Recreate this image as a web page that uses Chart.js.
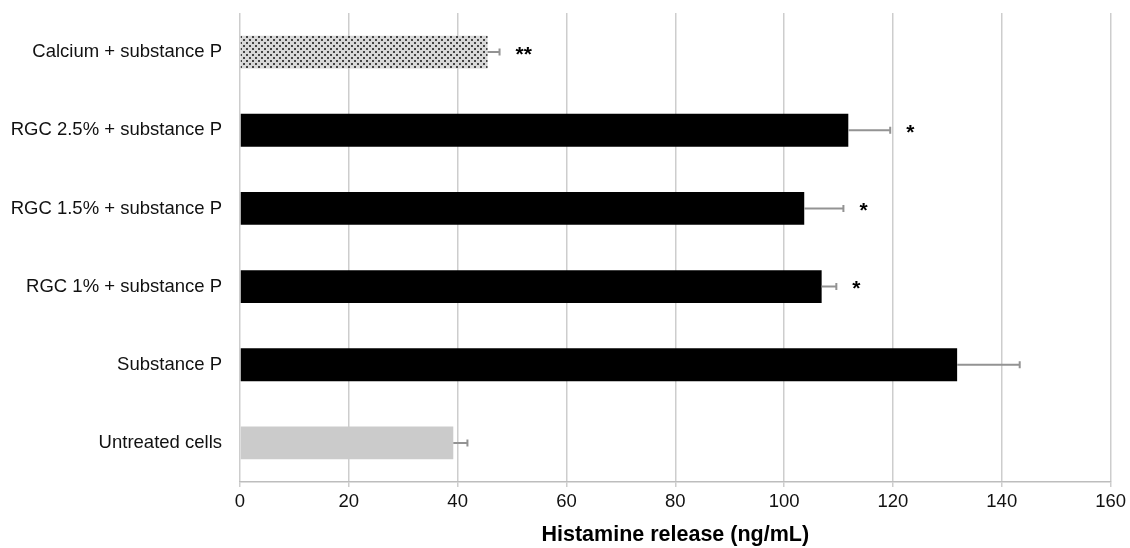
<!DOCTYPE html>
<html>
<head>
<meta charset="utf-8">
<script src="https://cdn.jsdelivr.net/npm/chart.js@4"></script>
<style>
  body { margin: 0; background: #fff; }
  #wrap { width: 1130px; height: 548px; }
</style>
</head>
<body>
<div id="wrap"><canvas id="barChart"></canvas></div>
<script>
// Data (top to bottom)
const categories = [
  'Calcium + substance P',
  'RGC 2.5% + substance P',
  'RGC 1.5% + substance P',
  'RGC 1% + substance P',
  'Substance P',
  'Untreated cells'
];
const histamine = [45.5, 111.8, 103.7, 106.9, 131.8, 39.2];
const errors = [2.2, 7.7, 7.2, 2.7, 11.5, 2.6];
const significance = ['**', '*', '*', '*', '', ''];
const xTicks = [0, 20, 40, 60, 80, 100, 120, 140, 160];

const FONT = "'Liberation Sans', Arial, Helvetica, sans-serif";

// Stippled fill used for the calcium bar
function makeStipple() {
  const c = document.createElement('canvas');
  c.width = 6;
  c.height = 6;
  const g = c.getContext('2d');
  g.fillStyle = '#d8d8d8';
  g.fillRect(0, 0, 6, 6);
  g.fillStyle = '#444';
  g.fillRect(0, 0, 2, 2);
  g.fillRect(3, 3, 2, 2);
  return g.createPattern(c, 'repeat');
}

const ctx = document.getElementById('barChart').getContext('2d');
const barColors = [makeStipple(), '#000', '#000', '#000', '#000', '#cbcbcb'];

// Draw one-sided error bars and the asterisks
const errorBars = {
  id: 'errorBars',
  afterDatasetsDraw(chart) {
    const x = chart.scales.x;
    const meta = chart.getDatasetMeta(0);
    const c = chart.ctx;
    c.save();
    meta.data.forEach((bar, i) => {
      const x0 = x.getPixelForValue(histamine[i]);
      const x1 = x.getPixelForValue(histamine[i] + errors[i]);
      const y = bar.y;
      c.strokeStyle = '#939393';
      c.lineWidth = 2;
      c.beginPath();
      c.moveTo(x0, y);
      c.lineTo(x1, y);
      c.moveTo(x1, y - 3.5);
      c.lineTo(x1, y + 3.5);
      c.stroke();
      if (significance[i]) {
        c.fillStyle = '#000';
        c.font = 'bold 21px ' + FONT;
        c.textAlign = 'left';
        c.textBaseline = 'middle';
        c.fillText(significance[i], x1 + 16, y + 3);
      }
    });
    c.restore();
  }
};

new Chart(ctx, {
  type: 'bar',
  data: {
    labels: categories,
    datasets: [{
      label: 'Histamine release',
      data: histamine,
      backgroundColor: barColors,
      borderWidth: 0,
      categoryPercentage: 1,
      barPercentage: 0.42
    }]
  },
  options: {
    indexAxis: 'y',
    responsive: true,
    maintainAspectRatio: false,
    animation: false,
    layout: { padding: { top: 13, right: 15, bottom: 0, left: 0 } },
    plugins: {
      legend: { display: false },
      tooltip: { enabled: false }
    },
    scales: {
      x: {
        min: 0,
        max: 160,
        afterBuildTicks: scale => { scale.ticks = xTicks.map(v => ({ value: v })); },
        afterFit: scale => { scale.height = 66; },
        grid: { color: '#cdcdcd', lineWidth: 1.5, tickLength: 5 },
        border: { color: '#bdbdbd', width: 1.5 },
        ticks: { color: '#111', padding: 4, font: { family: FONT, size: 18.5 } },
        title: {
          display: true,
          text: 'Histamine release (ng/mL)',
          color: '#000',
          padding: { top: 0, bottom: 0 },
          font: { family: FONT, size: 21.5, weight: 'bold' }
        }
      },
      y: {
        afterFit: scale => {
          scale.width = 240;
          scale.paddingTop = 0;
          scale.paddingBottom = 0;
        },
        grid: { display: false, drawTicks: false },
        border: { display: false },
        ticks: { color: '#111', padding: 18, font: { family: FONT, size: 18.5 } }
      }
    }
  },
  plugins: [errorBars]
});
</script>
</body>
</html>
